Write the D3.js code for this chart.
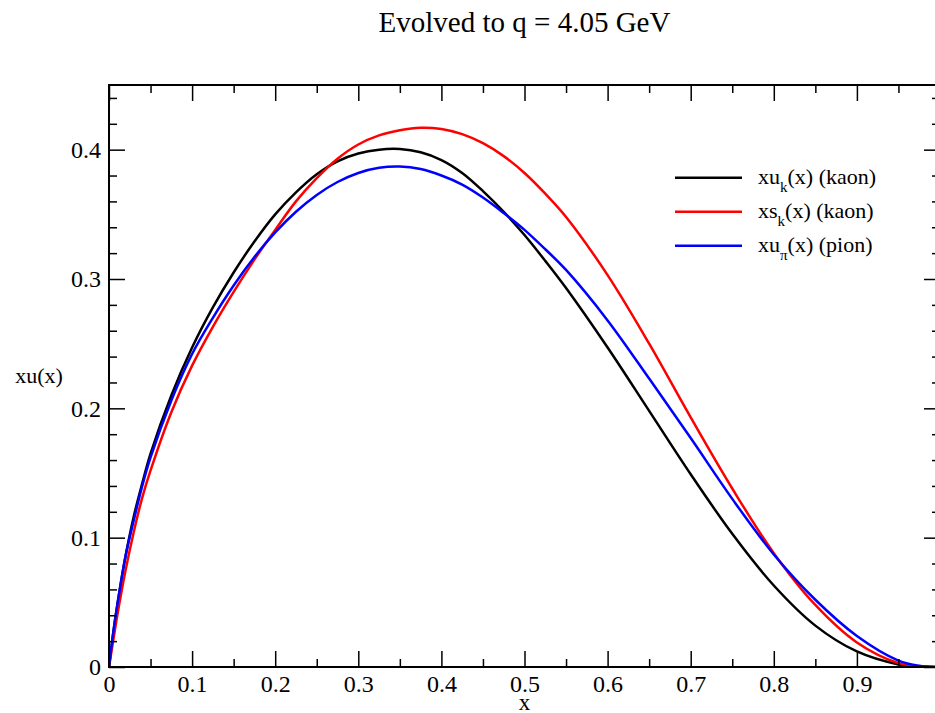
<!DOCTYPE html>
<html>
<head>
<meta charset="utf-8">
<script src="https://cdn.jsdelivr.net/npm/d3@7/dist/d3.min.js"></script>
<style>
  html, body { margin: 0; padding: 0; background: #fff; }
  svg { display: block; }
</style>
</head>
<body>
<svg id="chart" width="935" height="713"></svg>
<script>
// ---- Data ----
const xGrid = [0, 0.005, 0.01, 0.02, 0.03, 0.04, 0.05, 0.075, 0.1, 0.125, 0.15, 0.175, 0.2, 0.225, 0.25, 0.275, 0.3, 0.325, 0.35, 0.375, 0.4, 0.425, 0.45, 0.475, 0.5, 0.525, 0.55, 0.6, 0.65, 0.7, 0.75, 0.8, 0.85, 0.9, 0.95, 0.975, 1.0];

const xuKaon = [0, 0.026, 0.048, 0.086, 0.117, 0.142, 0.165, 0.210, 0.247, 0.278, 0.305, 0.329, 0.350, 0.367, 0.381, 0.391, 0.397, 0.400, 0.4005, 0.398, 0.392, 0.382, 0.368, 0.352, 0.334, 0.314, 0.293, 0.247, 0.198, 0.149, 0.103, 0.063, 0.032, 0.012, 0.002, 0.0004, 0];

const xsKaon = [0, 0.020, 0.040, 0.075, 0.105, 0.131, 0.152, 0.197, 0.233, 0.263, 0.290, 0.315, 0.338, 0.360, 0.378, 0.393, 0.404, 0.411, 0.415, 0.417, 0.416, 0.412, 0.405, 0.395, 0.382, 0.366, 0.348, 0.303, 0.250, 0.193, 0.138, 0.088, 0.048, 0.019, 0.003, 0.0005, 0];

const xuPion = [0, 0.026, 0.048, 0.086, 0.114, 0.140, 0.162, 0.206, 0.242, 0.270, 0.295, 0.317, 0.336, 0.352, 0.365, 0.375, 0.382, 0.386, 0.387, 0.385, 0.380, 0.373, 0.363, 0.351, 0.338, 0.323, 0.307, 0.268, 0.223, 0.177, 0.130, 0.087, 0.052, 0.024, 0.005, 0.001, 0];

const seriesNames = ["xu|k|(x) (kaon)", "xs|k|(x) (kaon)", "xu|π|(x) (pion)"];
const seriesColors = ["#000000", "#ff0000", "#0000ff"];
const seriesValues = [xuKaon, xsKaon, xuPion];

const xMajorTicks = [0, 0.1, 0.2, 0.3, 0.4, 0.5, 0.6, 0.7, 0.8, 0.9, 1.0];
const xTickLabels = [0, 0.1, 0.2, 0.3, 0.4, 0.5, 0.6, 0.7, 0.8, 0.9];
const xMinorTicks = [0.05, 0.15, 0.25, 0.35, 0.45, 0.55, 0.65, 0.75, 0.85, 0.95];
const yMajorTicks = [0, 0.1, 0.2, 0.3, 0.4];
const yMinorTicks = [0.02, 0.04, 0.06, 0.08, 0.12, 0.14, 0.16, 0.18, 0.22, 0.24, 0.26, 0.28, 0.32, 0.34, 0.36, 0.38, 0.42, 0.44];

const titleText = "Evolved to q = 4.05 GeV";
const xLabel = "x";
const yLabel = "xu(x)";

// ---- Layout ----
const FONT = "'Liberation Serif', 'Times New Roman', Times, serif";
const svg = d3.select("#chart");
const margin = { left: 109, top: 85 };
const W = 831, H = 582;

const x = d3.scaleLinear().domain([0, 1]).range([0, W]);
const y = d3.scaleLinear().domain([0, 0.45]).range([H, 0]);

const g = svg.append("g").attr("transform", `translate(${margin.left},${margin.top})`);

const fmt = d => d === 0 ? "0" : d3.format(".1f")(d);

// Curves (clip to plot)
svg.append("defs").append("clipPath").attr("id", "clip")
  .append("rect").attr("x", 0).attr("y", 0).attr("width", W).attr("height", H);

const line = d3.line().x(d => x(d[0])).y(d => y(d[1])).curve(d3.curveCatmullRom.alpha(0.5));
const plot = g.append("g").attr("clip-path", "url(#clip)");
seriesValues.forEach((vals, i) => {
  plot.append("path")
    .datum(xGrid.map((xv, j) => [xv, vals[j]]))
    .attr("fill", "none")
    .attr("stroke", seriesColors[i])
    .attr("stroke-width", 2.5)
    .attr("stroke-linejoin", "round")
    .attr("d", line);
});

// Axes: ticks pointing inward on all four sides
function styleAxis(sel) {
  sel.attr("font-family", null).attr("font-size", null);
  sel.select(".domain").remove();
  sel.selectAll(".tick line").attr("stroke", "#000").attr("stroke-width", 1.5);
  sel.selectAll("text").attr("fill", "#000").style("font-size", "24px")
     .style("font-family", FONT);
}

g.append("g").attr("transform", `translate(0,${H})`)
  .call(d3.axisBottom(x).tickValues(xMajorTicks).tickSize(-16).tickPadding(8)
    .tickFormat(d => xTickLabels.includes(d) ? fmt(d) : ""))
  .call(styleAxis);
g.append("g").attr("transform", `translate(0,${H})`)
  .call(d3.axisBottom(x).tickValues(xMinorTicks).tickSize(-8).tickFormat(""))
  .call(styleAxis);
g.append("g")
  .call(d3.axisTop(x).tickValues(xMajorTicks).tickSize(-16).tickFormat(""))
  .call(styleAxis);
g.append("g")
  .call(d3.axisTop(x).tickValues(xMinorTicks).tickSize(-8).tickFormat(""))
  .call(styleAxis);
g.append("g")
  .call(d3.axisLeft(y).tickValues(yMajorTicks).tickSize(-16).tickPadding(8).tickFormat(fmt))
  .call(styleAxis);
g.append("g")
  .call(d3.axisLeft(y).tickValues(yMinorTicks).tickSize(-8).tickFormat(""))
  .call(styleAxis);
g.append("g").attr("transform", `translate(${W},0)`)
  .call(d3.axisRight(y).tickValues(yMajorTicks).tickSize(-16).tickFormat(""))
  .call(styleAxis);
g.append("g").attr("transform", `translate(${W},0)`)
  .call(d3.axisRight(y).tickValues(yMinorTicks).tickSize(-8).tickFormat(""))
  .call(styleAxis);

// Frame
g.append("rect").attr("x", 0).attr("y", 0).attr("width", W).attr("height", H)
  .attr("fill", "none").attr("stroke", "#000").attr("stroke-width", 2);

// Title
svg.append("text").attr("x", margin.left + W / 2).attr("y", 32)
  .attr("text-anchor", "middle").style("font-family", FONT).style("font-size", "29px")
  .attr("fill", "#000").text(titleText);

// Axis labels
svg.append("text").attr("x", margin.left + W / 2).attr("y", 710)
  .attr("text-anchor", "middle").style("font-family", FONT).style("font-size", "23px")
  .attr("fill", "#000").text(xLabel);
svg.append("text").attr("x", 39).attr("y", 383)
  .attr("text-anchor", "middle").style("font-family", FONT).style("font-size", "22px")
  .attr("fill", "#000").text(yLabel);

// Legend
const legend = g.append("g");
seriesNames.forEach((name, i) => {
  const ly = y(0.4) + 28 + i * 34;
  const parts = name.split("|");
  legend.append("line")
    .attr("x1", 675 - margin.left).attr("x2", 742 - margin.left)
    .attr("y1", ly).attr("y2", ly)
    .attr("stroke", seriesColors[i]).attr("stroke-width", 2.5);
  const t = legend.append("text").attr("x", 758 - margin.left).attr("y", ly + 6)
    .style("font-family", FONT).style("font-size", "22px").attr("fill", "#000");
  t.append("tspan").text(parts[0]);
  t.append("tspan").attr("dy", 8).style("font-size", "15px").text(parts[1]);
  t.append("tspan").attr("dy", -8).text(parts[2]);
});
</script>
</body>
</html>
